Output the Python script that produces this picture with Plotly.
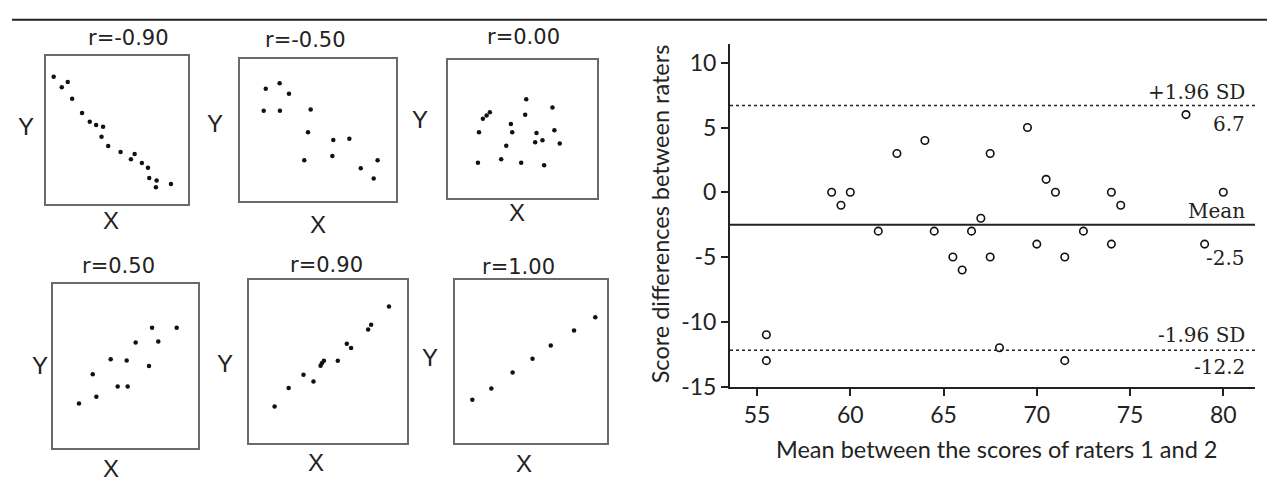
import plotly.graph_objects as go

W, H = 1275, 484

# ---------------- data: six example scatter panels (arbitrary units 0-100) ----------------
titles = ["r=-0.90", "r=-0.50", "r=0.00", "r=0.50", "r=0.90", "r=1.00"]

neg090_x = [5.4, 11.1, 15.3, 18.4, 25.4, 30.8, 35.3, 40.2, 39.1, 43.8, 52.5, 59.8, 62.4, 67.5, 71.8, 72.7, 77.9, 77.4, 88.0]
neg090_y = [85.7, 78.7, 82.2, 70.8, 61.2, 55.3, 53.1, 52.0, 45.2, 39.0, 34.9, 30.0, 33.6, 27.4, 24.3, 17.3, 15.6, 11.0, 13.2]

neg050_x = [16.5, 25.4, 31.4, 15.2, 25.6, 45.3, 43.6, 41.2, 59.8, 70.1, 59.2, 88.2, 77.4, 85.7]
neg050_y = [78.7, 82.6, 75.2, 63.3, 63.3, 64.2, 48.2, 28.4, 42.7, 43.6, 31.4, 28.4, 22.9, 15.6]

zero_x = [52.5, 70.1, 23.4, 25.9, 28.1, 51.8, 42.2, 43.1, 20.8, 59.4, 71.4, 58.5, 63.4, 75.0, 39.1, 20.1, 35.7, 49.1, 64.5]
zero_y = [71.3, 65.4, 57.2, 59.5, 61.9, 60.0, 53.4, 47.5, 47.5, 46.8, 48.9, 40.2, 41.6, 39.3, 37.6, 25.4, 27.8, 25.4, 23.5]

pos050_x = [17.9, 29.9, 27.4, 39.8, 50.8, 44.6, 51.5, 57.0, 66.2, 68.3, 72.6, 85.3]
pos050_y = [27.2, 31.2, 45.0, 54.2, 53.4, 37.5, 37.5, 64.5, 50.0, 73.4, 65.1, 73.4]

pos090_x = [16.2, 25.1, 34.5, 40.8, 45.3, 46.1, 47.4, 56.2, 61.9, 64.6, 75.4, 77.3, 88.6]
pos090_y = [22.4, 33.8, 42.0, 37.8, 47.6, 49.0, 50.6, 50.6, 61.0, 58.4, 69.8, 72.8, 84.0]

pos100_x = [11.4, 23.9, 37.9, 51.0, 63.0, 78.3, 92.3]
pos100_y = [26.6, 33.6, 43.4, 51.8, 60.0, 69.2, 77.4]

# ---------------- data: Bland-Altman plot ----------------
ba_mean = [55.5, 55.5, 59, 59.5, 60, 61.5, 62.5, 64, 64.5, 65.5, 66, 66.5, 67, 67.5, 67.5,
           68, 69.5, 70, 70.5, 71, 71.5, 71.5, 72.5, 74, 74, 74.5, 78, 79, 80]
ba_diff = [-11, -13, 0, -1, 0, -3, 3, 4, -3, -5, -6, -3, -2, 3, -5,
           -12, 5, -4, 1, 0, -5, -13, -3, 0, -4, -1, 6, -4, 0]
bias = -2.5
upper_loa = 6.7
lower_loa = -12.2
x_ticks = [55, 60, 65, 70, 75, 80]
y_ticks = [-15, -10, -5, 0, 5, 10]
y_tick_labels = ["-15", "-10", "-5", "0", "5", "10"]

# ---------------- layout helpers (pixel -> paper) ----------------
def fx(px):
    return px / W

def fy(py):
    return 1 - py / H

panel_data = [(neg090_x, neg090_y), (neg050_x, neg050_y), (zero_x, zero_y),
              (pos050_x, pos050_y), (pos090_x, pos090_y), (pos100_x, pos100_y)]
# box: x0, x1, y0(top), y1(bottom) in px
panel_box = [(38, 180, 49, 201), (232, 388, 52, 198), (440, 589, 53, 195),
             (45, 190, 284, 452), (241, 399, 280, 447), (447, 599, 280, 447)]
title_pos = [(120, 31), (297, 33), (515, 30), (110, 265), (318, 264), (510, 266)]
ylab_pos = [(18, 122), (207, 119), (412, 115), (32, 367), (217, 365), (422, 359)]
xlab_pos = [(103, 218), (310, 222), (509, 210), (103, 473), (308, 467), (516, 468)]

fig = go.Figure()
annotations = []
layout_axes = {}

sans = "DejaVu Sans"
narrow = "Liberation Sans Narrow, Liberation Sans, Arial"

for i, ((xs, ys), box) in enumerate(zip(panel_data, panel_box), start=1):
    fig.add_trace(go.Scatter(x=xs, y=ys, mode="markers", xaxis=f"x{i}", yaxis=f"y{i}",
                             marker=dict(size=4.5, color="#111"), showlegend=False,
                             hoverinfo="skip"))
    ax_common = dict(range=[0, 100], showgrid=False, zeroline=False, showticklabels=False,
                     ticks="", showline=True, mirror=True, linecolor="#6a6a6a", linewidth=2,
                     fixedrange=True)
    layout_axes[f"xaxis{i}"] = dict(ax_common, domain=[fx(box[0]), fx(box[1])], anchor=f"y{i}")
    layout_axes[f"yaxis{i}"] = dict(ax_common, domain=[fy(box[3]), fy(box[2])], anchor=f"x{i}")
    tx, ty = title_pos[i - 1]
    annotations.append(dict(text=titles[i - 1], x=fx(tx), y=fy(ty), xref="paper", yref="paper",
                            showarrow=False, xanchor="center", yanchor="middle",
                            font=dict(family=sans, size=21, color="#222")))
    lx, ly = ylab_pos[i - 1]
    annotations.append(dict(text="Y", x=fx(lx), y=fy(ly), xref="paper", yref="paper",
                            showarrow=False, xanchor="center", yanchor="middle",
                            font=dict(family=narrow, size=24, color="#222")))
    lx, ly = xlab_pos[i - 1]
    annotations.append(dict(text="X", x=fx(lx), y=fy(ly), xref="paper", yref="paper",
                            showarrow=False, xanchor="center", yanchor="middle",
                            font=dict(family=narrow, size=24, color="#222")))

# ---------------- Bland-Altman ----------------
fig.add_trace(go.Scatter(x=ba_mean, y=ba_diff, mode="markers", xaxis="x7", yaxis="y7",
                         marker=dict(symbol="circle-open", size=7.5, color="#111",
                                     line=dict(width=1.6, color="#111")),
                         showlegend=False, hoverinfo="skip"))

tick_font = dict(family="Lato, Open Sans, sans-serif", size=23, color="#222")
title_font = dict(family="Lato, Open Sans, sans-serif", size=23.5, color="#222")
layout_axes["xaxis7"] = dict(domain=[fx(722), fx(1247)], anchor="y7", range=[53.55, 81.7],
                             tickvals=x_ticks, showgrid=False, zeroline=False, showline=True,
                             linecolor="#222", linewidth=2, ticks="outside", ticklen=7,
                             tickwidth=2, tickcolor="#222", tickfont=tick_font, fixedrange=True)
layout_axes["yaxis7"] = dict(domain=[fy(389), fy(37)], anchor="x7", range=[-15, 11.45],
                             tickvals=y_ticks, ticktext=y_tick_labels, showgrid=False,
                             zeroline=False, showline=True,
                             linecolor="#222", linewidth=2, ticks="outside", ticklen=7,
                             tickwidth=2, tickcolor="#222", tickfont=tick_font, fixedrange=True)

shapes = []
for val, dash in [(upper_loa, "dot"), (bias, "solid"), (lower_loa, "dot")]:
    shapes.append(dict(type="line", xref="x7 domain", yref="y7", x0=0, x1=1, y0=val, y1=val,
                       line=dict(color="#222", width=2 if dash == "solid" else 1.6, dash=dash)))
# top rule across the figure
shapes.append(dict(type="line", xref="paper", yref="paper", x0=fx(4), x1=1, y0=fy(12), y1=fy(12),
                   line=dict(color="#222", width=2)))

serif = dict(family="DejaVu Serif, Liberation Serif, serif", size=20, color="#222")
for text, val, shift in [("+1.96 SD", upper_loa, 14), (f"{upper_loa}", upper_loa, -18),
                         ("Mean", bias, 14), (f"{bias}", bias, -33),
                         ("-1.96 SD", lower_loa, 15), (f"{lower_loa}", lower_loa, -17)]:
    annotations.append(dict(text=text, x=fx(1239), y=val, xref="paper", yref="y7",
                            yshift=shift, showarrow=False, xanchor="right", yanchor="middle",
                            font=serif))

annotations.append(dict(text="Score differences between raters", x=fx(652), y=fy(212),
                        xref="paper", yref="paper", textangle=-90, showarrow=False,
                        xanchor="center", yanchor="middle", font=title_font))
annotations.append(dict(text="Mean between the scores of raters 1 and 2", x=fx(988), y=fy(453),
                        xref="paper", yref="paper", showarrow=False,
                        xanchor="center", yanchor="middle", font=title_font))

fig.update_layout(width=W, height=H, margin=dict(l=0, r=0, t=0, b=0),
                  paper_bgcolor="white", plot_bgcolor="white",
                  annotations=annotations, shapes=shapes, showlegend=False, **layout_axes)

fig.write_html("out.html")
